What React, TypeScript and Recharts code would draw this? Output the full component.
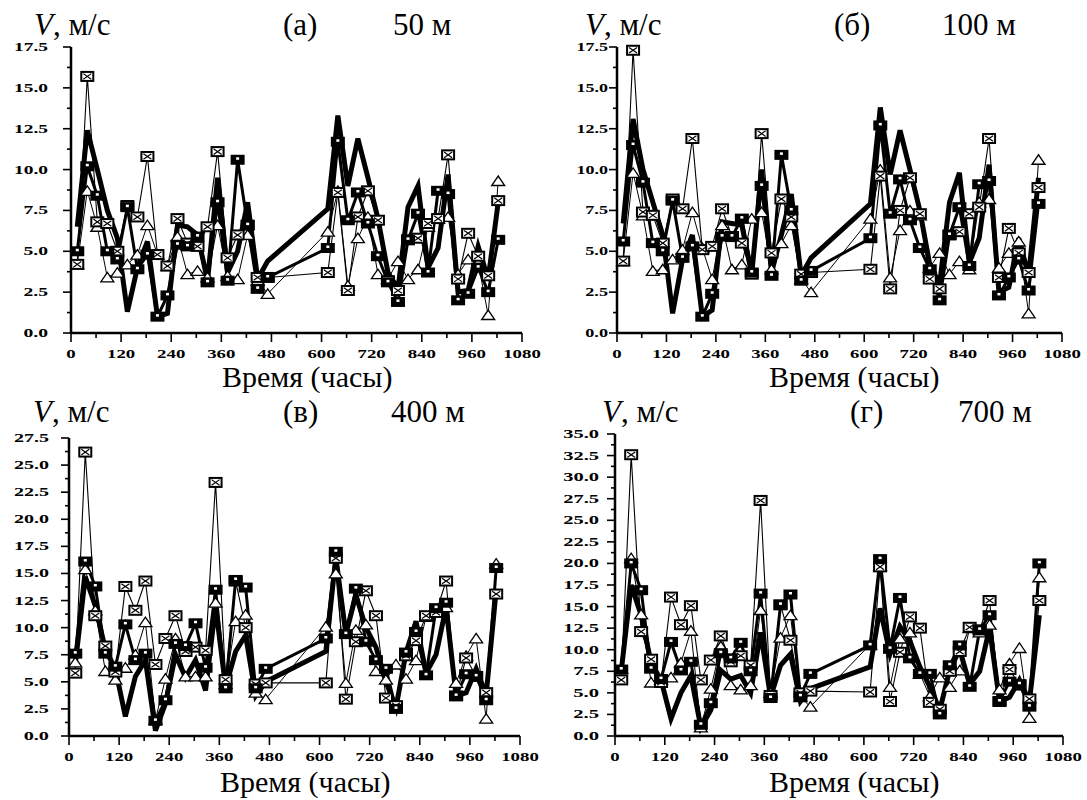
import { LineChart, Line, XAxis, YAxis } from 'recharts';

// hours of each observation (two observation periods)
const HOURS = [15, 39, 63, 87, 111, 135, 159, 183, 207, 231, 255, 279, 303, 327, 351, 375, 399, 423, 447, 471,
  615, 639, 663, 687, 711, 735, 759, 783, 807, 831, 855, 879, 903, 927, 951, 975, 999, 1023];

const X_TICKS = [0, 60, 120, 180, 240, 300, 360, 420, 480, 540, 600, 660, 720, 780, 840, 900, 960, 1020, 1080];

// (а) 50 м
const A_MODEL = [6.5, 12.4, 10.0, 7.5, 5.8, 1.3, 4.0, 5.6, 1.0, 1.2, 6.6, 6.5, 6.0, 3.2, 9.5, 3.7, 5.0, 8.0, 3.3, 4.4,
  7.6, 13.3, 9.0, 11.9, 9.5, 7.0, 3.7, 2.7, 7.7, 9.0, 4.0, 5.2, 9.7, 2.5, 2.6, 5.3, 3.3, 8.0];
const A_TRI = [4.2, 8.7, 6.5, 3.4, 3.7, 4.2, 4.8, 6.6, 4.8, 4.1, 5.9, 3.6, 3.8, 3.4, 6.6, 3.5, 3.3, 6.0, 3.2, 2.4,
  6.2, 8.7, 2.9, 5.8, 7.1, 3.6, 3.3, 4.4, 3.3, 3.9, 6.5, 7.0, 7.1, 3.6, 4.5, 4.3, 1.1, 9.3];
const A_CROSS = [4.2, 15.7, 6.8, 6.7, 5.0, 7.8, 7.1, 10.8, 4.8, 4.1, 7.0, 5.5, 5.3, 6.5, 11.1, 4.6, 6.0, 6.6, 3.4, 3.4,
  3.7, 8.6, 2.6, 7.1, 8.7, 6.9, 3.2, 2.6, 5.7, 5.8, 6.7, 7.0, 10.9, 3.3, 6.1, 4.7, 3.5, 8.1];
const A_SQUARE = [5.0, 10.2, 8.4, 5.0, 4.5, 7.7, 3.9, 4.8, 1.0, 2.3, 5.4, 5.3, 5.9, 3.1, 8.0, 3.2, 10.6, 6.6, 2.7, 3.4,
  5.2, 11.7, 6.9, 8.6, 6.7, 4.7, 3.1, 1.9, 5.7, 7.3, 3.7, 8.7, 8.5, 2.0, 2.4, 4.0, 2.5, 5.7];

// (б) 100 м
const B_MODEL = [6.7, 13.1, 10.0, 8.0, 6.0, 1.2, 4.5, 6.0, 1.0, 1.4, 6.8, 6.7, 6.6, 3.6, 10.0, 3.7, 6.0, 8.5, 3.5, 4.6,
  7.9, 13.8, 9.7, 12.4, 10.0, 7.5, 4.2, 3.0, 8.0, 9.8, 4.3, 5.8, 10.3, 2.5, 2.8, 5.8, 3.5, 9.5];
const B_TRI = [4.4, 9.8, 7.2, 3.8, 3.9, 4.5, 5.1, 7.4, 5.2, 3.3, 6.6, 3.9, 4.2, 7.0, 7.4, 3.9, 5.5, 6.6, 3.3, 2.5,
  7.0, 10.0, 3.4, 6.3, 7.5, 7.2, 4.0, 4.9, 3.6, 4.4, 3.9, 8.0, 8.2, 4.0, 4.9, 5.6, 1.2, 10.6];
const B_CROSS = [4.4, 17.3, 7.4, 7.2, 5.5, 8.2, 7.6, 11.9, 5.1, 5.3, 7.6, 5.9, 5.5, 3.6, 12.2, 4.9, 8.2, 7.1, 3.6, 3.7,
  3.9, 9.6, 2.7, 7.5, 9.5, 7.3, 3.3, 2.7, 6.0, 6.2, 7.3, 7.7, 11.9, 3.4, 6.4, 4.9, 3.7, 8.9];
const B_SQUARE = [5.6, 11.5, 9.2, 5.5, 5.0, 8.1, 4.6, 5.3, 1.0, 2.4, 5.9, 5.9, 7.0, 3.7, 9.0, 3.5, 10.9, 7.5, 3.2, 3.8,
  5.8, 12.7, 7.3, 9.4, 6.9, 5.2, 3.9, 2.0, 6.0, 7.7, 4.1, 9.1, 9.3, 2.3, 3.4, 4.5, 2.6, 7.9];

// (в) 400 м
const C_MODEL = [6.6, 14.7, 12.0, 8.0, 6.2, 1.8, 5.5, 7.0, 0.5, 3.0, 7.5, 5.4, 7.0, 4.2, 12.0, 4.5, 7.8, 9.3, 3.7, 5.0,
  7.8, 16.5, 9.4, 13.0, 10.0, 8.2, 5.0, 2.6, 7.7, 10.6, 5.8, 7.5, 11.9, 3.7, 4.0, 6.2, 3.8, 13.5];
const C_TRI = [6.8, 15.4, 11.6, 6.0, 5.2, 6.3, 7.5, 10.5, 1.5, 5.3, 9.0, 5.5, 5.5, 5.5, 12.3, 4.8, 10.6, 11.2, 4.0, 3.4,
  10.1, 15.0, 4.9, 9.8, 10.3, 6.0, 5.2, 6.6, 5.3, 7.0, 11.0, 11.6, 11.9, 4.9, 7.4, 9.0, 1.6, 15.9];
const C_CROSS = [5.8, 26.2, 11.1, 8.3, 5.9, 13.8, 11.6, 14.3, 6.6, 9.0, 11.1, 7.8, 8.2, 7.9, 23.4, 5.2, 14.3, 10.0, 4.8, 4.9,
  4.9, 16.4, 3.4, 8.7, 13.4, 11.1, 3.5, 2.8, 7.4, 8.8, 11.1, 11.4, 14.3, 3.7, 7.2, 5.5, 4.0, 13.1];
const C_SQUARE = [7.6, 16.1, 13.8, 7.6, 6.4, 10.3, 7.0, 7.6, 1.4, 3.3, 8.5, 8.3, 10.4, 6.3, 13.5, 4.4, 14.4, 13.7, 4.4, 6.2,
  9.0, 17.0, 9.4, 13.6, 8.7, 7.0, 6.2, 2.5, 7.7, 9.6, 5.6, 11.8, 12.3, 3.7, 5.7, 5.5, 3.3, 15.5];

// (г) 700 м
const D_MODEL = [7.5, 17.5, 14.0, 8.5, 6.5, 2.0, 5.0, 7.0, 1.0, 3.0, 7.6, 6.6, 7.0, 5.0, 12.0, 4.5, 8.2, 9.5, 4.0, 5.5,
  8.0, 14.8, 9.5, 12.7, 11.0, 8.0, 5.7, 3.0, 7.7, 10.0, 6.0, 7.5, 12.5, 4.0, 4.5, 6.5, 4.0, 14.0];
const D_TRI = [7.8, 20.6, 14.1, 6.2, 6.5, 6.8, 8.5, 12.2, 1.0, 5.5, 10.4, 5.9, 5.4, 5.9, 14.6, 5.0, 11.4, 14.0, 4.5, 3.4,
  10.6, 19.7, 5.7, 11.3, 12.0, 7.2, 4.6, 6.8, 5.7, 7.6, 12.5, 12.0, 12.9, 5.4, 8.4, 10.2, 2.1, 18.4];
const D_CROSS = [6.5, 32.6, 12.1, 8.9, 6.2, 16.1, 12.9, 15.1, 6.5, 8.8, 11.6, 8.6, 9.3, 8.2, 27.3, 4.7, 15.2, 11.1, 5.0, 5.2,
  5.1, 19.6, 4.0, 9.7, 13.8, 12.5, 3.9, 3.1, 7.5, 9.8, 12.6, 12.3, 15.7, 4.0, 7.7, 5.9, 4.3, 15.7];
const D_SQUARE = [7.7, 20.0, 16.9, 7.8, 6.6, 10.9, 7.6, 8.6, 1.3, 3.8, 9.6, 9.0, 10.8, 7.5, 16.5, 4.4, 15.2, 16.4, 4.6, 7.2,
  10.5, 20.5, 10.1, 16.0, 9.0, 7.2, 7.2, 2.5, 8.2, 10.5, 5.7, 12.3, 14.0, 4.0, 6.3, 6.0, 3.4, 20.0];

const SERIF = "'Liberation Serif', 'Times New Roman', serif";

function buildRows(model: number[], tri: number[], cross: number[], square: number[]) {
  return HOURS.map((h, i) => ({ h, model: model[i], tri: tri[i], cross: cross[i], square: square[i] }));
}

// wide bold tick labels, like the original
function labelWidth(s: string, digit: number) {
  let w = 0;
  for (const c of s) w += c === '.' ? digit * 0.58 : digit;
  return w;
}

function XTick(props: any) {
  const { x, y, payload } = props;
  const v = payload.value;
  const major = v % 120 === 0;
  const s = String(v);
  const w = labelWidth(s, 9.4);
  return (
    <g>
      <line x1={x} y1={y} x2={x} y2={y + (major ? 9 : 5)} stroke="#000" strokeWidth={1.6} />
      {major && (
        <text x={x - w / 2} y={y + 25} textLength={w} lengthAdjust="spacingAndGlyphs"
          fontFamily={SERIF} fontWeight="bold" fontSize={11.5} fill="#000">{s}</text>
      )}
    </g>
  );
}

function YTick(props: any) {
  const { x, y, payload, gap, digit } = props;
  const v = payload.value;
  const major = Math.abs(v / 2.5 - Math.round(v / 2.5)) < 1e-6;
  const s = v.toFixed(1);
  const w = labelWidth(s, digit);
  return (
    <g>
      <line x1={x - (major ? 8 : 4)} y1={y} x2={x} y2={y} stroke="#000" strokeWidth={1.6} />
      {major && (
        <text x={x - gap - w} y={y + 4} textLength={w} lengthAdjust="spacingAndGlyphs"
          fontFamily={SERIF} fontWeight="bold" fontSize={11.5} fill="#000">{s}</text>
      )}
    </g>
  );
}

const TriDot = (p: any) => {
  const { cx, cy, index } = p;
  if (cx == null || cy == null) return <g key={index} />;
  return (
    <polygon key={index} points={`${cx - 6.5},${cy + 4.5} ${cx + 6.5},${cy + 4.5} ${cx},${cy - 5}`}
      fill="#fff" stroke="#000" strokeWidth={1.3} />
  );
};

const CrossDot = (p: any) => {
  const { cx, cy, index } = p;
  if (cx == null || cy == null) return <g key={index} />;
  return (
    <g key={index}>
      <rect x={cx - 6} y={cy - 4.5} width={12} height={9} fill="#fff" stroke="#000" strokeWidth={2} />
      <line x1={cx - 4} y1={cy - 2.8} x2={cx + 4} y2={cy + 2.8} stroke="#000" strokeWidth={1.2} />
      <line x1={cx - 4} y1={cy + 2.8} x2={cx + 4} y2={cy - 2.8} stroke="#000" strokeWidth={1.2} />
    </g>
  );
};

const SquareDot = (p: any) => {
  const { cx, cy, index } = p;
  if (cx == null || cy == null) return <g key={index} />;
  return (
    <g key={index}>
      <rect x={cx - 7} y={cy - 5} width={14} height={10} fill="#000" />
      <rect x={cx - 1.5} y={cy - 2.5} width={3} height={2.5} fill="#fff" />
    </g>
  );
};

interface PanelProps {
  rows: any[];
  yMax: number;
  left: number;
  top: number;
  width: number;
  plot: { left: number; right: number; top: number; bottom: number };
  labelGap: number;
  digit: number;
}

const Y_AXIS_W = 65;
const X_AXIS_H = 30;
const PANEL_H = 400;

function Panel({ rows, yMax, left, top, width, plot, labelGap, digit }: PanelProps) {
  const yTicks = Array.from({ length: Math.round(yMax / 1.25) + 1 }, (_, i) => i * 1.25);
  const margin = {
    top: plot.top - top,
    left: plot.left - left - Y_AXIS_W,
    right: left + width - plot.right,
    bottom: top + PANEL_H - plot.bottom - X_AXIS_H,
  };
  return (
    <div style={{ position: 'absolute', left, top }}>
      <LineChart width={width} height={PANEL_H} data={rows} margin={margin}>
        <XAxis dataKey="h" type="number" domain={[0, 1080]} ticks={X_TICKS} interval={0}
          height={X_AXIS_H} tickSize={0} tickMargin={0} tickLine={false}
          axisLine={{ stroke: '#000', strokeWidth: 2.5 }} tick={(p: any) => <XTick {...p} />} />
        <YAxis type="number" domain={[0, yMax]} ticks={yTicks} interval={0} width={Y_AXIS_W}
          tickSize={0} tickMargin={0} tickLine={false}
          axisLine={{ stroke: '#000', strokeWidth: 2.5 }}
          tick={(p: any) => <YTick {...p} gap={labelGap} digit={digit} />} />
        <Line dataKey="model" type="linear" stroke="#000" strokeWidth={5} dot={false} activeDot={false}
          isAnimationActive={false} />
        <Line dataKey="tri" type="linear" stroke="#000" strokeWidth={1} dot={TriDot} activeDot={false}
          isAnimationActive={false} />
        <Line dataKey="cross" type="linear" stroke="#000" strokeWidth={1.1} dot={CrossDot} activeDot={false}
          isAnimationActive={false} />
        <Line dataKey="square" type="linear" stroke="#000" strokeWidth={3} dot={SquareDot} activeDot={false}
          isAnimationActive={false} />
      </LineChart>
    </div>
  );
}

const TITLES = [
  { vx: 34, px: 283, hx: 393, y: 35, label: '(а)', height: '50 м', tx: 222, ty: 387 },
  { vx: 585, px: 834, hx: 942, y: 35, label: '(б)', height: '100 м', tx: 769, ty: 387 },
  { vx: 33, px: 283, hx: 391, y: 422, label: '(в)', height: '400 м', tx: 220, ty: 792 },
  { vx: 602, px: 850, hx: 958, y: 422, label: '(г)', height: '700 м', tx: 769, ty: 792 },
];

export default function App() {
  return (
    <div style={{ position: 'absolute', left: 0, top: 0, width: 1087, height: 800, background: '#fff' }}>
      <Panel rows={buildRows(A_MODEL, A_TRI, A_CROSS, A_SQUARE)} yMax={17.5} left={0} top={0} width={543}
        plot={{ left: 71, right: 522, top: 47, bottom: 333 }} labelGap={23} digit={9.5} />
      <Panel rows={buildRows(B_MODEL, B_TRI, B_CROSS, B_SQUARE)} yMax={17.5} left={543} top={0} width={544}
        plot={{ left: 617, right: 1062, top: 47, bottom: 333 }} labelGap={9} digit={8.8} />
      <Panel rows={buildRows(C_MODEL, C_TRI, C_CROSS, C_SQUARE)} yMax={27.5} left={0} top={400} width={543}
        plot={{ left: 69, right: 520, top: 438, bottom: 736 }} labelGap={20} digit={9.8} />
      <Panel rows={buildRows(D_MODEL, D_TRI, D_CROSS, D_SQUARE)} yMax={35} left={543} top={400} width={544}
        plot={{ left: 615, right: 1063, top: 434, bottom: 736 }} labelGap={16} digit={10} />
      <svg width={1087} height={800} style={{ position: 'absolute', left: 0, top: 0, pointerEvents: 'none' }}>
        {TITLES.map((t) => (
          <g key={t.label} fontFamily={SERIF} fill="#000">
            <text x={t.vx} y={t.y} fontSize={31}><tspan fontStyle="italic">V</tspan>, м/с</text>
            <text x={t.px} y={t.y} fontSize={31}>{t.label}</text>
            <text x={t.hx} y={t.y} fontSize={31}>{t.height}</text>
            <text x={t.tx} y={t.ty} fontSize={30}>Время (часы)</text>
          </g>
        ))}
      </svg>
    </div>
  );
}
